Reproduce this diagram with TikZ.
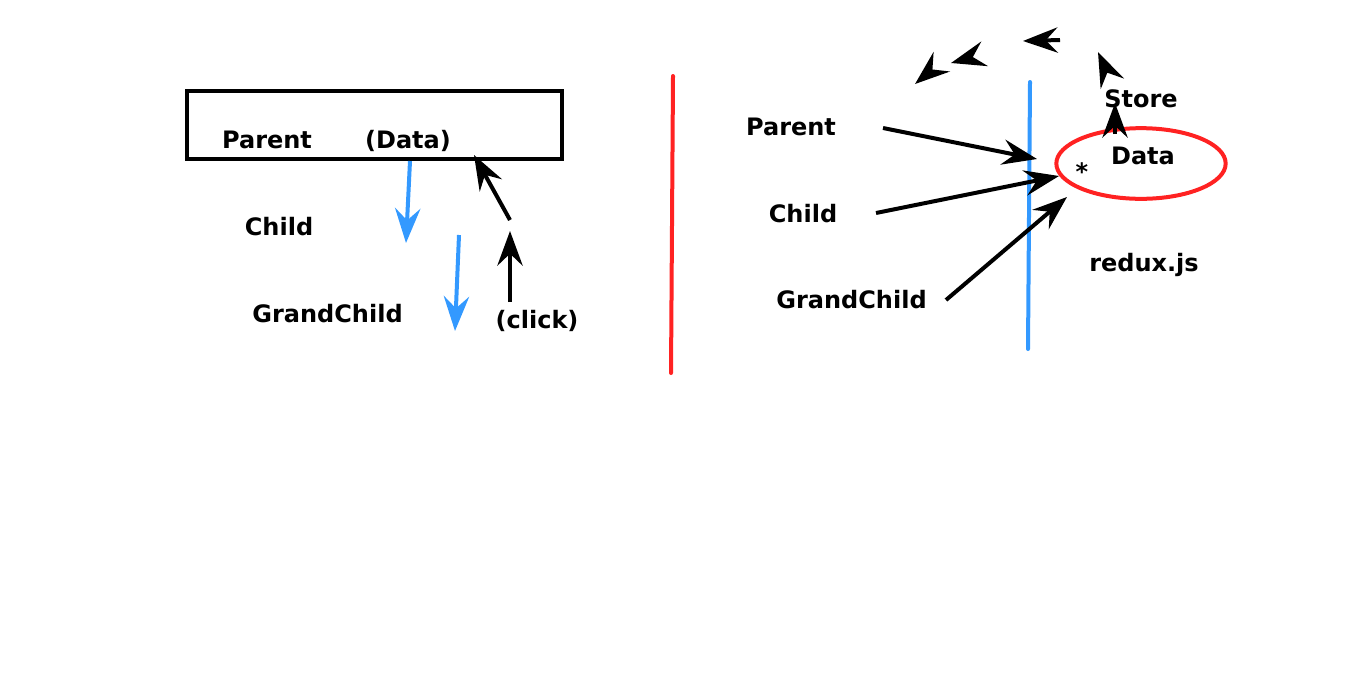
\documentclass[tikz,border=0pt]{standalone}
\usepackage{fontspec}
\setmainfont{DejaVu Sans}
\usetikzlibrary{arrows.meta,shapes.geometric}
\definecolor{myblue}{RGB}{51,153,255}
\definecolor{myred}{RGB}{255,34,34}
\begin{document}
\begin{tikzpicture}[x=0.75pt,y=-0.75pt,
  lbl/.style={anchor=base, inner sep=0pt, font=\fontsize{18}{20}\selectfont\bfseries},
  tipstyle/.style={-{Stealth[length=26pt,width=19pt,inset=9pt]}},
  con/.style={line width=3pt, tipstyle},
  bluecon/.style={con, draw=myblue},
  plainline/.style={line width=3pt, line cap=round}]
\useasboundingbox (0,0) rectangle (1366,697);

% ---------- left side ----------
\node[draw, line width=3pt, minimum width=281pt, minimum height=51pt, inner sep=0pt] (box) at (374.5,125) {};
\node[lbl] (lparent) at (267,148) {Parent};
\node[lbl] (ldata) at (408,148) {(Data)};
\node[lbl] (lchild) at (279,235) {Child};
\node[lbl] (lgrand) at (327.5,322) {GrandChild};
\node[lbl] (lclick) at (537,328) {(click)};

\coordinate (b1s) at (410,161);
\coordinate (b1e) at (406,243);
\coordinate (b2s) at (459,235);
\coordinate (b2e) at (455,331);
\coordinate (k1s) at (510,220);
\coordinate (k1e) at (474,155);
\coordinate (k2s) at (510,302);
\coordinate (k2e) at (510,231);
\draw[bluecon] (b1s) -- (b1e);
\draw[bluecon] (b2s) -- (b2e);
\draw[con] (k1s) -- (k1e);
\draw[con] (k2s) -- (k2e);

% ---------- divider ----------
\coordinate (r1) at (673,76);
\coordinate (r2) at (671,373);
\draw[plainline, draw=myred] (r1) -- (r2);

% ---------- right side ----------
\node[lbl] (rparent) at (791,135) {Parent};
\node[lbl] (rchild) at (803,222) {Child};
\node[lbl] (rgrand) at (851.5,308) {GrandChild};

\coordinate (bl1) at (1030,82);
\coordinate (bl2) at (1028,349);
\draw[plainline, draw=myblue] (bl1) -- (bl2);

\node[draw=myred, line width=3pt, ellipse, minimum width=127pt, minimum height=53pt, inner sep=0pt] (store) at (1141,163.5) {};
\node[lbl] (rdata) at (1143,164) {Data};
\node[lbl] (star) at (1082,180) {*};
\node[lbl] (rstore) at (1141,107) {Store};
\node[lbl] (redux) at (1144,271) {redux.js};

\coordinate (a1s) at (883,128);
\coordinate (a1e) at (1037,159);
\coordinate (a2s) at (876,213);
\coordinate (a2e) at (1059,176);
\coordinate (a3s) at (946,300);
\coordinate (a3e) at (1067,197);
\draw[con] (a1s) -- (a1e);
\draw[con] (a2s) -- (a2e);
\draw[con] (a3s) -- (a3e);

\coordinate (s1s) at (1115,134);
\coordinate (s1e) at (1115,103);
\draw[con] (s1s) -- (s1e);

% floating arrow heads
\coordinate (h1s) at (930.6,71);
\coordinate (h1e) at (915,84);
\coordinate (h2s) at (970.8,57.6);
\coordinate (h2e) at (951,63);
\coordinate (h3s) at (1060,40);
\coordinate (h3e) at (1023,41);
\coordinate (h4s) at (1106.7,71.3);
\coordinate (h4e) at (1098,52);
\draw[con] (h1s) -- (h1e);
\draw[con] (h2s) -- (h2e);
\draw[con] (h3s) -- (h3e);
\draw[con] (h4s) -- (h4e);
\end{tikzpicture}
\end{document}
